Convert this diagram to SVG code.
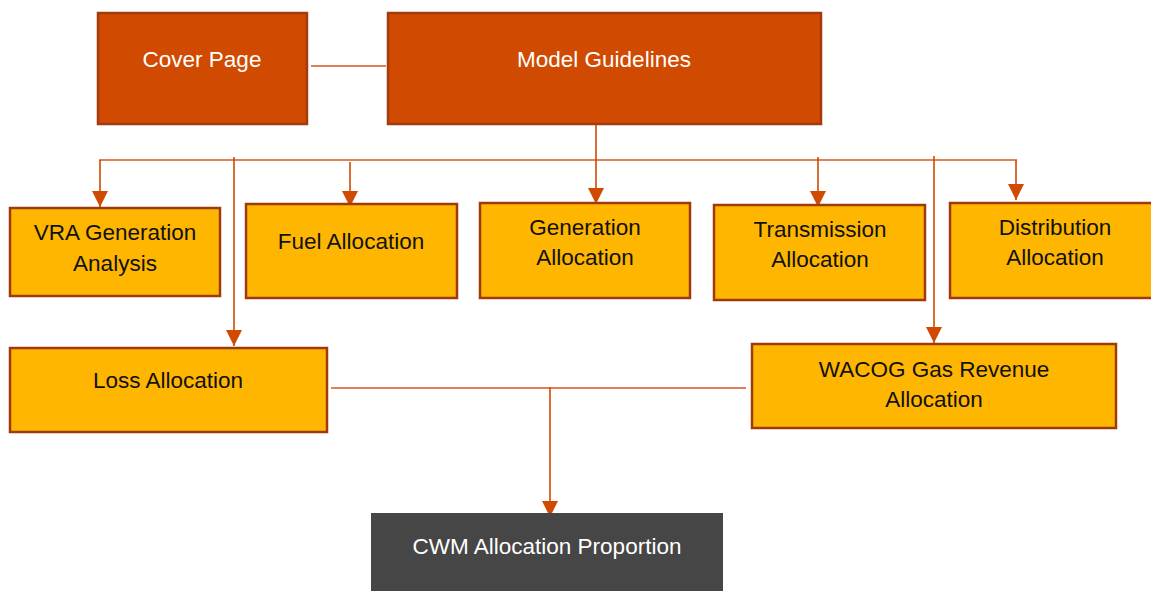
<svg xmlns="http://www.w3.org/2000/svg" width="1151" height="591" viewBox="0 0 1151 591">
  <style>
    .top rect { fill: #D04A02; stroke: #A33C0C; stroke-width: 2.5; }
    .sheet rect { fill: #FFB600; stroke: #9E3A0C; stroke-width: 2.5; }
    .out rect { fill: #464646; }
    text { font-family: "Liberation Sans", Arial, sans-serif; font-size: 22.5px; text-anchor: middle; }
    .top text, .out text { fill: #FFFFFF; }
    .sheet text { fill: #111111; }
    .link { stroke: #D9571E; stroke-width: 1.6; fill: none; }
    .arrow { stroke: #D04A02; stroke-width: 1.6; fill: none; marker-end: url(#head); }
  </style>
  <defs>
    <marker id="head" markerUnits="userSpaceOnUse" markerWidth="16" markerHeight="16" refX="16" refY="8" orient="auto">
      <path d="M0,0 L16,8 L0,16 z" fill="#D04A02"/>
    </marker>
  </defs>

  <g id="connectors">
    <line class="link" x1="311" y1="66" x2="386" y2="66"/>
    <line class="link" x1="99" y1="160" x2="1017" y2="160"/>
    <line class="arrow" x1="100" y1="160" x2="100" y2="207"/>
    <line class="arrow" x1="350" y1="162" x2="350" y2="207"/>
    <line class="arrow" x1="596" y1="125" x2="596" y2="204"/>
    <line class="arrow" x1="818" y1="157" x2="818" y2="207"/>
    <line class="arrow" x1="1016" y1="160" x2="1016" y2="200"/>
    <line class="arrow" x1="234" y1="157" x2="234" y2="346"/>
    <line class="arrow" x1="934" y1="156" x2="934" y2="343"/>
    <line class="link" x1="331" y1="388" x2="746" y2="388"/>
    <line class="arrow" x1="550" y1="387" x2="550" y2="517"/>
  </g>

  <g id="cover-page" class="top">
    <rect x="98" y="13" width="209" height="111"/>
    <text x="202" y="67">Cover Page</text>
  </g>
  <g id="model-guidelines" class="top">
    <rect x="388" y="13" width="433" height="111"/>
    <text x="604" y="67">Model Guidelines</text>
  </g>

  <g id="vra-generation" class="sheet">
    <rect x="10" y="208" width="210" height="88"/>
    <text x="115" y="240">VRA Generation</text>
    <text x="115" y="271">Analysis</text>
  </g>
  <g id="fuel-allocation" class="sheet">
    <rect x="246" y="204" width="211" height="94"/>
    <text x="351" y="249">Fuel Allocation</text>
  </g>
  <g id="generation-allocation" class="sheet">
    <rect x="480" y="203" width="210" height="95"/>
    <text x="585" y="235">Generation</text>
    <text x="585" y="265">Allocation</text>
  </g>
  <g id="transmission-allocation" class="sheet">
    <rect x="714" y="205" width="211" height="95"/>
    <text x="820" y="237">Transmission</text>
    <text x="820" y="267">Allocation</text>
  </g>
  <g id="distribution-allocation" class="sheet">
    <rect x="950" y="203" width="212" height="95"/>
    <text x="1055" y="235">Distribution</text>
    <text x="1055" y="265">Allocation</text>
  </g>
  <g id="loss-allocation" class="sheet">
    <rect x="10" y="348" width="317" height="84"/>
    <text x="168" y="388">Loss Allocation</text>
  </g>
  <g id="wacog-allocation" class="sheet">
    <rect x="752" y="344" width="364" height="84"/>
    <text x="934" y="377">WACOG Gas Revenue</text>
    <text x="934" y="407">Allocation</text>
  </g>

  <g id="cwm-allocation" class="out">
    <rect x="371" y="513" width="352" height="80"/>
    <text x="547" y="554">CWM Allocation Proportion</text>
  </g>
</svg>
